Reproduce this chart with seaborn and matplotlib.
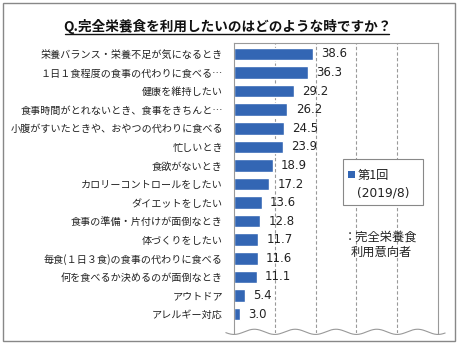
import numpy as np
import pandas as pd
import matplotlib
matplotlib.use("Agg")
import matplotlib.pyplot as plt
from matplotlib.patches import Rectangle
from matplotlib.lines import Line2D
import seaborn as sns

categories = [
    "栄養バランス・栄養不足が気になるとき",
    "１日１食程度の食事の代わりに食べる…",
    "健康を維持したい",
    "食事時間がとれないとき、食事をきちんと…",
    "小腹がすいたときや、おやつの代わりに食べる",
    "忙しいとき",
    "食欲がないとき",
    "カロリーコントロールをしたい",
    "ダイエットをしたい",
    "食事の準備・片付けが面倒なとき",
    "体づくりをしたい",
    "毎食(１日３食)の食事の代わりに食べる",
    "何を食べるか決めるのが面倒なとき",
    "アウトドア",
    "アレルギー対応",
]
values = [38.6, 36.3, 29.2, 26.2, 24.5, 23.9, 18.9, 17.2, 13.6, 12.8, 11.7, 11.6, 11.1, 5.4, 3.0]
series_name = "第1回"
series_period = "(2019/8)"
title = "Q.完全栄養食を利用したいのはどのような時ですか？"
note = "：完全栄養食\n利用意向者"

sns.set_style("white")
plt.rcParams["font.family"] = ["Noto Sans CJK JP", "DejaVu Sans"]

W, H = 459, 344
fig = plt.figure(figsize=(W / 100, H / 100), dpi=100)

def fx(x):
    return x / W

def fy(y):
    return 1 - y / H

ax_l, ax_r, ax_t, ax_b = 234, 438, 43, 333
ax = fig.add_axes([fx(ax_l), fy(ax_b), (ax_r - ax_l) / W, (ax_b - ax_t) / H])

df = pd.DataFrame({"category": categories, "value": values})
bar_color = "#3366B4"
sns.barplot(data=df, x="value", y="category", order=categories, orient="h",
            color=bar_color, width=0.68, ax=ax, saturation=1)

ax.set_xlim(0, 100)
ax.set_ylim(len(categories) - 1 + 1.02, -0.59)
ax.set_xlabel("")
ax.set_ylabel("")
ax.set_xticks([])
ax.tick_params(axis="y", length=0, pad=8, labelsize=7.25, labelcolor="#222222")

for xv in [20, 40, 60, 80]:
    ax.axvline(xv, color="#999999", lw=0.8, ls=(0, (3, 2)), zorder=0)

for side in ["top", "right", "left"]:
    ax.spines[side].set_visible(True)
    ax.spines[side].set_color("#999999")
    ax.spines[side].set_linewidth(0.8)
ax.spines["bottom"].set_visible(False)

for container in ax.containers:
    ax.bar_label(container, fmt="%.1f", padding=6, fontsize=8.5,
                 family=["DejaVu Sans"], color="#222222")

# wavy break line at the bottom
t = np.linspace(-0.04, 1.035, 400)
ax.plot(t, 0.004 + 0.009 * np.sin(2 * np.pi * (t - 0.05) / 0.2), color="#999999",
        lw=0.8, transform=ax.transAxes, clip_on=False)

# legend box
fig.patches.append(Rectangle((fx(343), fy(205)), (423 - 343) / W, (205 - 159) / H,
                             transform=fig.transFigure, facecolor="white",
                             edgecolor="#888888", lw=0.8, zorder=5))
fig.patches.append(Rectangle((fx(348), fy(178)), 7 / W, 7 / H,
                             transform=fig.transFigure, facecolor=bar_color,
                             edgecolor="none", zorder=6))
fig.text(fx(358), fy(175), series_name, fontsize=8.8, va="center", ha="left",
         color="#222222", zorder=7)
fig.text(fx(357), fy(193), series_period, fontsize=8.8, va="center", ha="left",
         family=["DejaVu Sans"], color="#222222", zorder=7)
fig.text(fx(381), fy(245), note, fontsize=8.8, va="center", ha="center",
         color="#222222", linespacing=1.2, zorder=7)

# title with underline
fig.text(fx(227), fy(26), title, fontsize=9.8, fontweight="bold", ha="center",
         va="center", color="#111111")
fig.add_artist(Line2D([fx(65), fx(389)], [fy(33.5), fy(33.5)], color="#111111",
                      lw=1.0, transform=fig.transFigure))

# outer frame
fig.add_artist(Rectangle((fx(3), fy(341)), (455 - 3) / W, (341 - 3) / H,
                         transform=fig.transFigure, facecolor="none",
                         edgecolor="#888888", lw=1.0))

fig.savefig("out.png", dpi=100)
